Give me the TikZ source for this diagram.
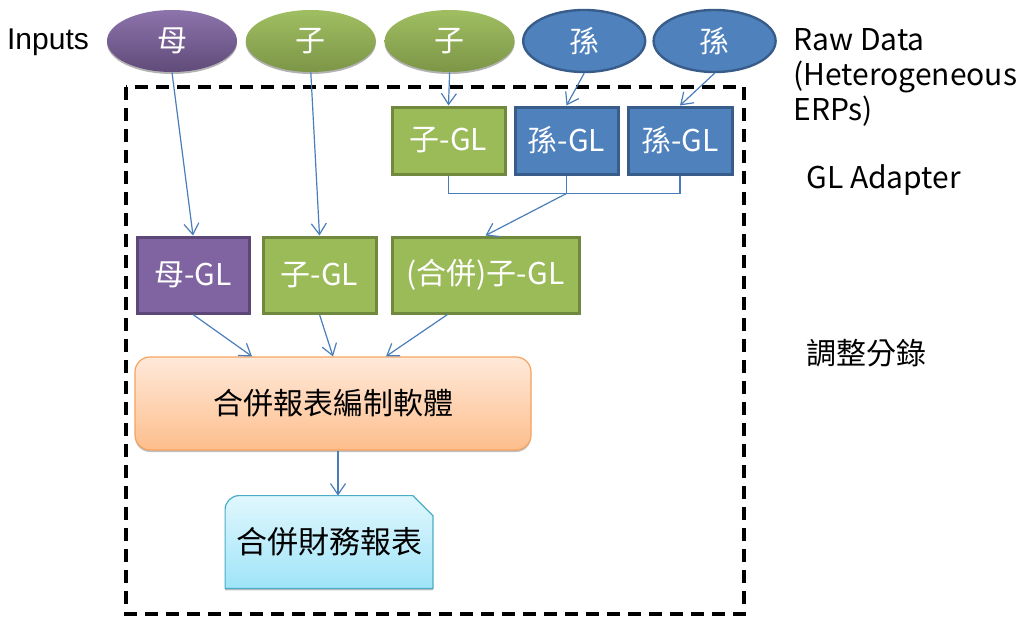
\documentclass[tikz,border=0pt]{standalone}
\usepackage{fontspec}
\setmainfont{Liberation Sans}
\newfontfamily\cjk{Noto Sans CJK TC}
\usetikzlibrary{positioning}
\usetikzlibrary{arrows.meta, shapes.geometric, shadows}

\definecolor{purpfill}{HTML}{8064A2}
\definecolor{purpline}{HTML}{5C4776}
\definecolor{greenfill}{HTML}{9BBB59}
\definecolor{greenline}{HTML}{71893F}
\definecolor{bluefill}{HTML}{4F81BD}
\definecolor{blueline}{HTML}{385D8A}
\definecolor{linkblue}{HTML}{4A7EBB}
\definecolor{softtop}{HTML}{FFE9DA}
\definecolor{softbot}{HTML}{FDBE8C}
\definecolor{softline}{HTML}{F5A35E}
\definecolor{reptop}{HTML}{E0F7FD}
\definecolor{repbot}{HTML}{9FE4F9}
\definecolor{repline}{HTML}{4BACC6}

\pgfdeclarelayer{background}
\pgfsetlayers{background,main}

\begin{document}
\begin{tikzpicture}[x=0.5pt,y=-0.5pt,>={Straight Barb[length=5.5pt,width=7.5pt]},
    every node/.style={font=\cjk\fontsize{15}{17}\selectfont,inner sep=0pt},
    oval/.style={ellipse,text=white,minimum height=31pt,font=\cjk\fontsize{15}{17}\selectfont},
    purpoval/.style={oval,top color=purpfill!90!white,bottom color=purpfill!75!black,
        drop shadow={shadow xshift=0pt,shadow yshift=-1pt,fill=black!60,opacity=0.5}},
    greenoval/.style={oval,top color=greenfill!95!white,bottom color=greenfill!80!black,
        drop shadow={shadow xshift=0pt,shadow yshift=-1pt,fill=black!60,opacity=0.5}},
    blueoval/.style={oval,fill=bluefill,draw=blueline,line width=1.2pt},
    glbox/.style={rectangle,text=white,line width=1.5pt},
    purpbox/.style={glbox,fill=purpfill,draw=purpline},
    greenbox/.style={glbox,fill=greenfill,draw=greenline},
    bluebox/.style={glbox,fill=bluefill,draw=blueline},
    link/.style={->,draw=linkblue,line width=0.6pt},
    wire/.style={draw=linkblue,line width=0.6pt},
    sidetext/.style={anchor=west,align=left,font=\cjk\fontsize{15}{17.5}\selectfont},
    frame/.style={draw=black,line width=1.7pt,dash pattern=on 6.5pt off 4pt},
]
    \useasboundingbox (0,0) rectangle (1023,621);
    % create the nodes
    \node[font=\fontsize{15}{17}\selectfont] (inputs) at (48,42) {Inputs};
    \node[purpoval,minimum width=65pt] (m) at (172,41) {母};
    \node[greenoval,minimum width=65pt] (c1) [right=4pt of m] {子};
    \node[greenoval,minimum width=65pt] (c2) [right=4pt of c1] {子};
    \node[blueoval,minimum width=61pt] (g1) [right=3.5pt of c2] {孫};
    \node[blueoval,minimum width=61pt] (g2) [right=3pt of g1] {孫};
    \node[sidetext] (raw) at (793,77) {Raw Data\\(Heterogeneous\\ERPs)};

    \draw[frame] (126,87) rectangle (744,614);

    % GL adapter row
    \node[greenbox,minimum width=56.5pt,minimum height=33.5pt] (cgl) at (448.5,140.5) {子-GL};
    \node[bluebox,minimum width=51.5pt,minimum height=33.5pt] (ggl1) [right=3.5pt of cgl] {孫-GL};
    \node[bluebox,minimum width=52pt,minimum height=33.5pt] (ggl2) [right=3.5pt of ggl1] {孫-GL};
    \node[sidetext] (adapter) at (806,180) {GL Adapter};

    % adjusted GL row
    \node[purpbox,minimum width=56pt,minimum height=38pt] (mgl) at (193,275) {母-GL};
    \node[greenbox,minimum width=56.5pt,minimum height=38pt] (cgl2) at (319.5,275) {子-GL};
    \node[greenbox,minimum width=93.5pt,minimum height=38pt] (mcgl) at (485.5,275) {(合併)子-GL};
    \node[sidetext] (adjust) at (806,353) {調整分錄};

    \node[rectangle,rounded corners=7.5pt,top color=softtop,bottom color=softbot,draw=softline,
        line width=0.6pt,minimum width=198pt,minimum height=46.5pt,
        drop shadow={shadow xshift=0pt,shadow yshift=-1pt,fill=black!50,opacity=0.5}]
        (soft) at (333,403.5) {合併報表編制軟體};

    \node[minimum width=103.5pt,minimum height=46pt,font=\cjk\fontsize{15.5}{17}\selectfont]
        (report) at (329,542) {合併財務報表};
    \begin{pgfonlayer}{background}
        \draw[top color=reptop,bottom color=repbot,draw=repline,line width=0.6pt,
            drop shadow={shadow xshift=0pt,shadow yshift=-1pt,fill=black!50,opacity=0.5}]
            (report.south west) [rounded corners=7pt] -- (report.north west) [sharp corners]
            -- ([xshift=-10pt]report.north east) -- ([yshift=-10pt]report.north east)
            -- (report.south east) -- cycle;
    \end{pgfonlayer}

    % connectors
    \draw[link] (m.south) -- (mgl.north);
    \draw[link] (c1.south) -- (cgl2.north);
    \draw[link] (c2.south) -- (cgl.north);
    \draw[link] (g1.south) -- (ggl1.north);
    \draw[link] (g2.south) -- (ggl2.north);
    \coordinate (bus) at ([yshift=-9pt]ggl1.south);
    \draw[wire] (cgl.south) |- (bus) -| (ggl2.south);
    \draw[wire] (ggl1.south) -- (bus);
    \draw[link] (bus) -- (mcgl.north);
    \draw[link] (mgl.south) -- ([xshift=-40.5pt]soft.north);
    \draw[link] (cgl2.south) -- (soft.north);
    \draw[link] ([xshift=-19pt]mcgl.south) -- ([xshift=26.5pt]soft.north);
    \draw[link] (338,0 |- soft.south) -- (338,0 |- report.north);
\end{tikzpicture}
\end{document}
